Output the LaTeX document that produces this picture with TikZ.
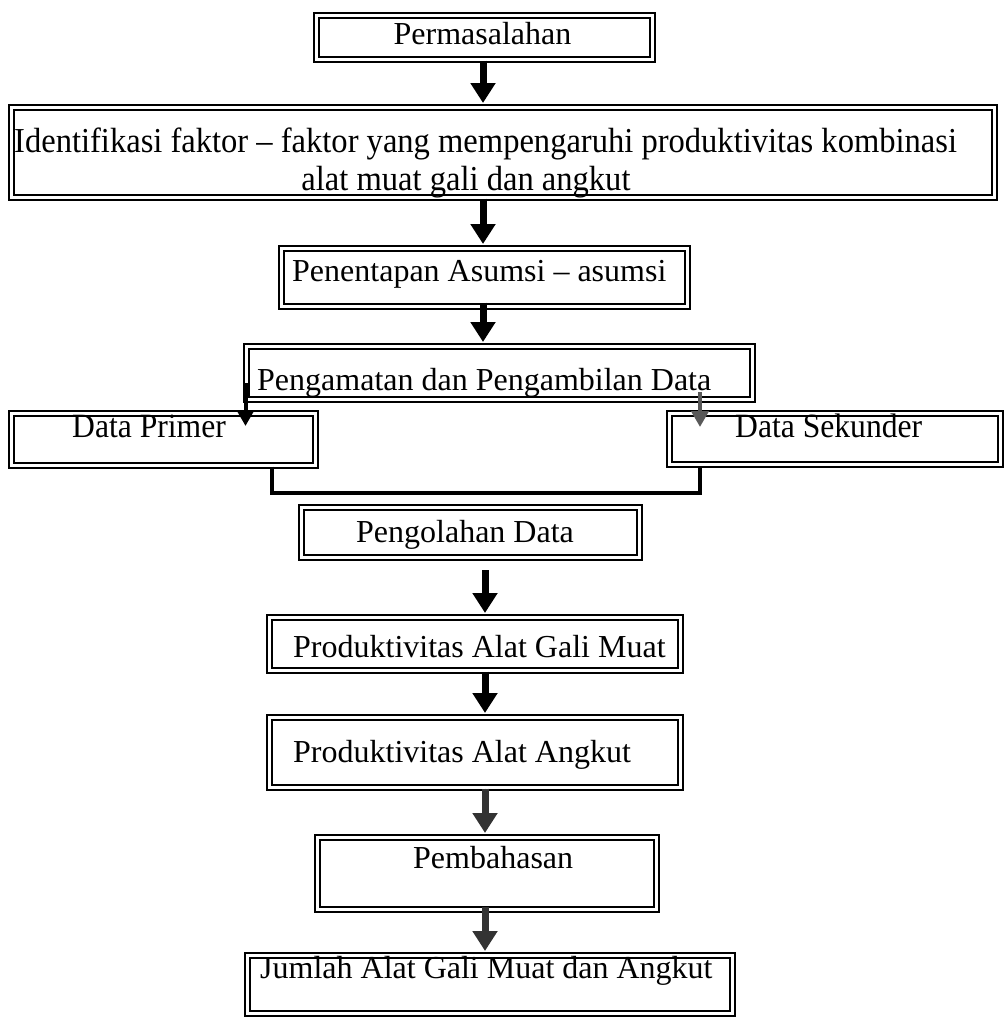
\documentclass[tikz,border=0pt]{standalone}
\usepackage{fontspec}
\setmainfont{Liberation Serif}
\newfontfamily\condfont[FakeStretch=0.93]{Liberation Serif}
\usetikzlibrary{arrows.meta}
\tikzset{
  dbox/.style={draw, line width=2.2pt, double=white, double distance=2.6pt, inner sep=0pt, anchor=north west},
  txt/.style={inner sep=0pt, font=\fontsize{32}{38}\selectfont},
  ctxt/.style={inner sep=0pt, font=\condfont\fontsize{35}{40}\selectfont},
  dtxt/.style={inner sep=0pt, font=\condfont\fontsize{34}{40}\selectfont},
  bigarr/.style={line width=7pt, -{Triangle[width=24pt,length=20pt]}},
  smallarr/.style={line width=4pt, -{Triangle[width=17pt,length=16pt]}},
  conn/.style={line width=4.5pt, line join=miter}
}
\begin{document}
\begin{tikzpicture}[x=1pt,y=-1pt]
\fill[white] (0,0) rectangle (1007,1018);
\useasboundingbox (0,0) rectangle (1007,1018);
\coordinate (ax) at (483,0);
\coordinate (ay) at (485,0);
\coordinate (px) at (272,0);
\coordinate (sx) at (700,0);
\coordinate (mid) at (480,493);
% boxes
\node[dbox, minimum width=336pt, minimum height=44pt] (b1) at (315.5,14.5) {};
\node[dbox, minimum width=983pt, minimum height=90pt] (b2) at (10.5,106.5) {};
\node[dbox, minimum width=406pt, minimum height=58pt] (b3) at (280.5,247.5) {};
\node[dbox, minimum width=506pt, minimum height=53pt] (b4) at (245.5,345.5) {};
\node[dbox, minimum width=304pt, minimum height=52pt] (b5) at (10.5,412.5) {};
\node[dbox, minimum width=331pt, minimum height=51pt] (b6) at (668.5,412.5) {};
\node[dbox, minimum width=338pt, minimum height=50pt] (b7) at (300.5,506.5) {};
\node[dbox, minimum width=411pt, minimum height=53pt] (b8) at (268.5,616.5) {};
\node[dbox, minimum width=411pt, minimum height=70pt] (b9) at (268.5,716.5) {};
\node[dbox, minimum width=339pt, minimum height=72pt] (b10) at (316.5,836.5) {};
\node[dbox, minimum width=485pt, minimum height=58pt] (b11) at (246.5,954.5) {};
% texts
\node[txt, anchor=base] (t1) at (482.5,44) {Permasalahan};
\node[ctxt, anchor=base west] (t2a) at (14,152) {Identifikasi faktor – faktor yang mempengaruhi produktivitas kombinasi};
\node[ctxt, anchor=base] (t2b) at (466,190) {alat muat gali dan angkut};
\node[txt, anchor=base west] (t3) at (292,281) {Penentapan Asumsi – asumsi};
\node[txt, anchor=base west] (t4) at (257,390) {Pengamatan dan Pengambilan Data};
\node[dtxt, anchor=base west] (t5) at (72,437) {Data Primer};
\node[dtxt, anchor=base west] (t6) at (735,437) {Data Sekunder};
\node[txt, anchor=base] (t7) at (465,542) {Pengolahan Data};
\node[txt, anchor=base west] (t8) at (293,657) {Produktivitas Alat Gali Muat};
\node[txt, anchor=base west] (t9) at (293,762) {Produktivitas Alat Angkut};
\node[txt, anchor=base west] (t10) at (413,868) {Pembahasan};
\node[txt, anchor=base west] (t11) at (260,978) {Jumlah Alat Gali Muat dan Angkut};
% arrows
\draw[bigarr] (b1.south -| ax) -- ([yshift=3.5pt]b2.north -| ax);
\draw[bigarr] (b2.south -| ax) -- ([yshift=3.5pt]b3.north -| ax);
\draw[bigarr] ([yshift=5pt]b3.south -| ax) -- ([yshift=3.5pt]b4.north -| ax);
\draw[smallarr] ([yshift=-10pt]b4.west) -- ([yshift=-13.5pt]b5.north -| b4.west);
\draw[smallarr, draw=black!65, fill=black!65] ([yshift=8.5pt]b4.south -| sx) -- ([yshift=-14.5pt]b6.north -| sx);
\draw[conn] (b5.south -| px) |- (mid) -| (b6.south -| sx);
\draw[bigarr] ([yshift=-11.5pt]b7.south -| ay) -- ([yshift=3.5pt]b8.north -| ay);
\draw[bigarr] (b8.south -| ay) -- ([yshift=3.5pt]b9.north -| ay);
\draw[bigarr, draw=black!80, fill=black!80] (b9.south -| ay) -- ([yshift=3.5pt]b10.north -| ay);
\draw[bigarr, draw=black!80, fill=black!80] ([yshift=3.5pt]b10.south -| ay) -- ([yshift=3.5pt]b11.north -| ay);
\end{tikzpicture}
\end{document}
